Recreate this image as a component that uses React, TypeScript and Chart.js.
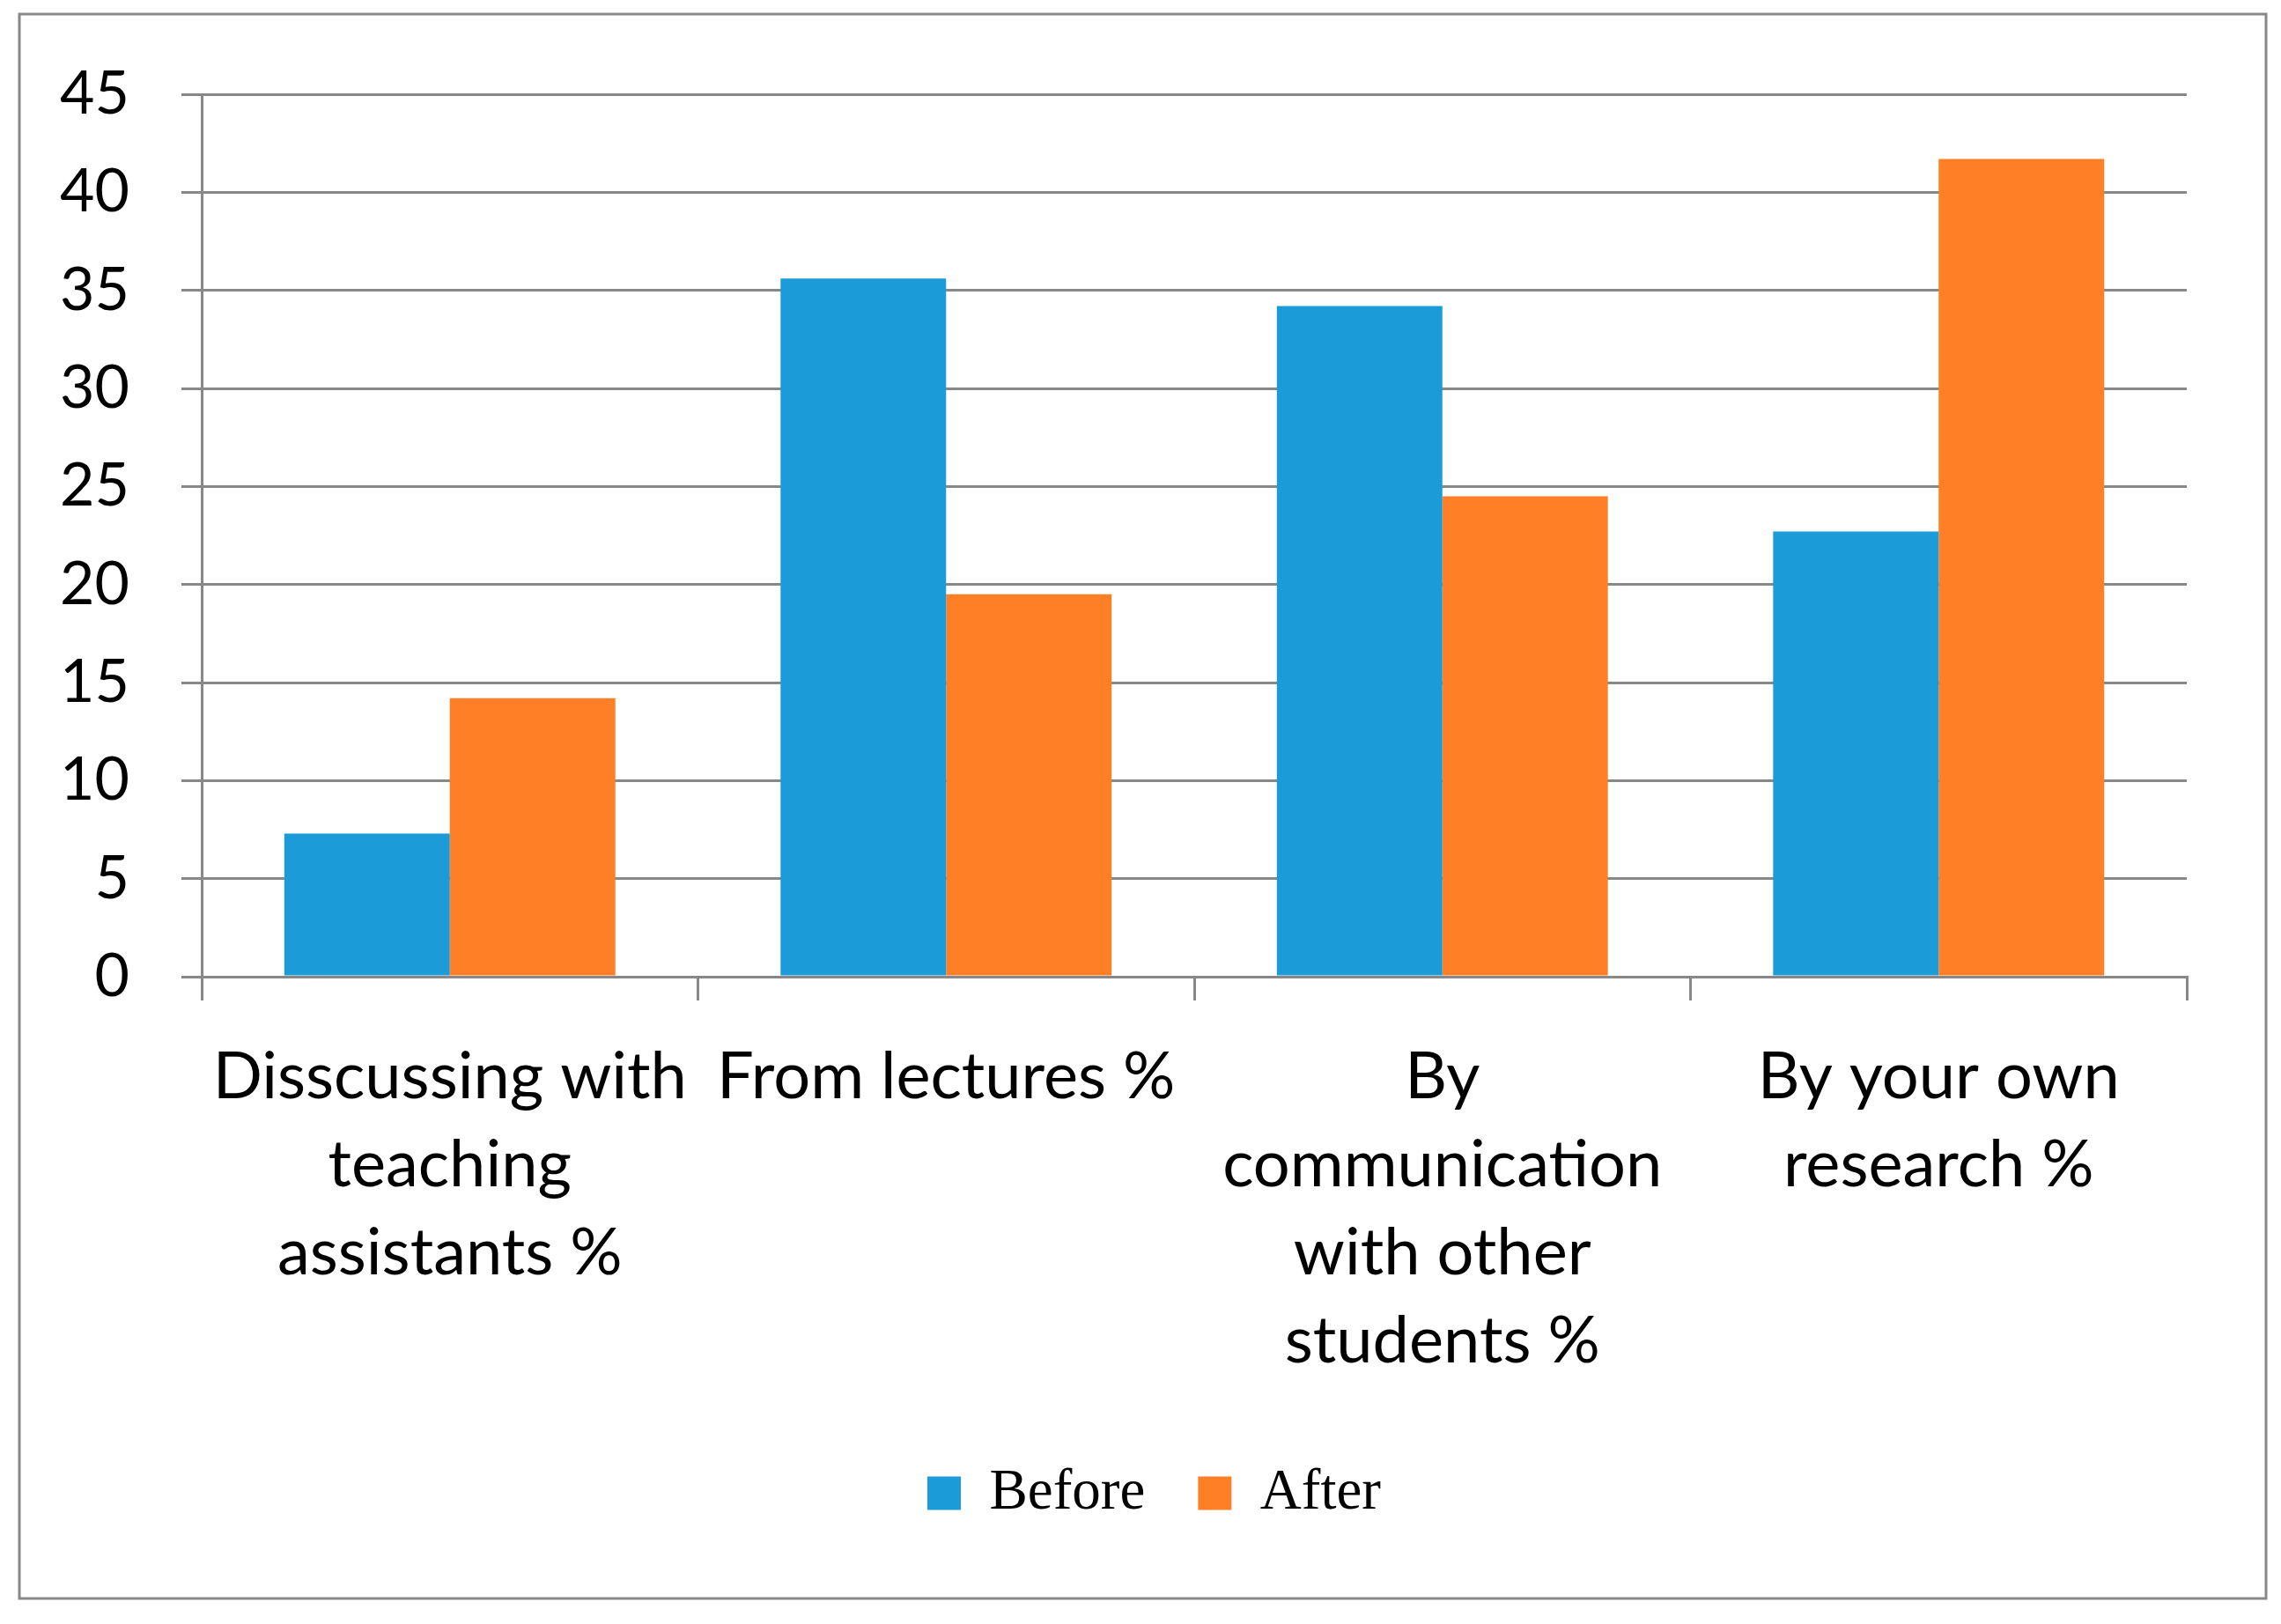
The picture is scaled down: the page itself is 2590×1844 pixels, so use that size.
import React, { useEffect, useRef } from "react";
import { Chart, registerables } from "chart.js";

Chart.register(...registerables);

const categories: string[][] = [
  ["Disscussing with", "teaching", "assistants %"],
  ["From lectures %"],
  ["By", "communication", "with other", "students %"],
  ["By your own", "research %"],
];
const seriesNames = ["Before", "After"];
const beforeValues = [7.3, 35.6, 34.2, 22.7];
const afterValues = [14.2, 19.5, 24.5, 41.7];
const yTicks = [0, 5, 10, 15, 20, 25, 30, 35, 40, 45];

const W = 2590;
const H = 1844;
const GRID = "#888888";

const framePlugin = {
  id: "frame",
  beforeDraw(chart: any) {
    const ctx = chart.ctx;
    ctx.save();
    ctx.fillStyle = "#ffffff";
    ctx.fillRect(0, 0, chart.width, chart.height);
    ctx.strokeStyle = GRID;
    ctx.lineWidth = 3;
    ctx.strokeRect(22, 16, 2551, 1799);
    ctx.restore();
  },
};

const legendShift = {
  id: "legendShift",
  afterLayout(chart: any) {
    const lg = chart.legend;
    if (lg) {
      lg.left += 49;
      lg.right += 49;
    }
  },
};

export default function App() {
  const ref = useRef<HTMLCanvasElement>(null);
  useEffect(() => {
    document.body.style.margin = "0";
    const chart = new Chart(ref.current!, {
      type: "bar",
      data: {
        labels: categories,
        datasets: [
          {
            label: seriesNames[0],
            data: beforeValues,
            backgroundColor: "#1b9bd7",
            borderWidth: 0,
          },
          {
            label: seriesNames[1],
            data: afterValues,
            backgroundColor: "#fe7f26",
            borderWidth: 0,
          },
        ],
      },
      options: {
        animation: false,
        responsive: false,
        devicePixelRatio: 1,
        layout: { padding: { top: 107, right: 107, bottom: 106, left: 40 } },
        datasets: {
          bar: { categoryPercentage: 0.667, barPercentage: 1 },
        },
        plugins: {
          legend: {
            position: "bottom",
            labels: {
              boxWidth: 38,
              boxHeight: 38,
              padding: 60,
              color: "#000",
              font: { family: "'Liberation Serif', 'Times New Roman', serif", size: 65 },
            },
          },
          tooltip: { enabled: false },
        },
        scales: {
          x: {
            afterFit: (s: any) => {
              s.height = 494;
            },
            grid: {
              offset: true,
              drawOnChartArea: false,
              drawTicks: true,
              tickLength: 27,
              color: GRID,
              lineWidth: 3,
            },
            border: { display: true, color: GRID, width: 3 },
            ticks: {
              color: "#000",
              padding: 37,
              maxRotation: 0,
              autoSkip: false,
              font: { family: "Lato, 'Open Sans', sans-serif", size: 74, lineHeight: 100 / 74 },
            },
          },
          y: {
            min: 0,
            max: 45,
            afterFit: (s: any) => {
              s.width = 189;
            },
            afterBuildTicks: (s: any) => {
              s.ticks = yTicks.map((v) => ({ value: v }));
            },
            grid: {
              drawTicks: true,
              tickLength: 23,
              color: GRID,
              lineWidth: 3,
            },
            border: { display: true, color: GRID, width: 3 },
            ticks: {
              color: "#000",
              padding: 59,
              font: { family: "Lato, 'Open Sans', sans-serif", size: 68 },
            },
          },
        },
      },
      plugins: [framePlugin, legendShift],
    });
    return () => chart.destroy();
  }, []);
  return (
    <div style={{ width: W, height: H }}>
      <canvas ref={ref} width={W} height={H} style={{ width: W, height: H, display: "block" }} />
    </div>
  );
}
